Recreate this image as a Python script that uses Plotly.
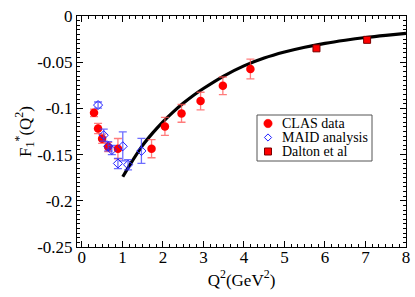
import plotly.graph_objects as go

# CLAS data
clas_q2 = [0.30, 0.40, 0.50, 0.65, 0.89, 1.72, 2.05, 2.46, 2.93, 3.48, 4.16]
clas_f1 = [-0.1048, -0.1217, -0.1328, -0.1418, -0.1436, -0.1436, -0.1195, -0.1054, -0.0920, -0.0755, -0.0574]
clas_err = [0.004, 0.0055, 0.005, 0.005, 0.011, 0.0098, 0.0097, 0.0096, 0.0095, 0.0095, 0.0107]

# MAID analysis
maid_q2 = [0.40, 0.54, 0.65, 0.74, 0.89, 1.01, 1.14, 1.47]
maid_f1 = [-0.0964, -0.1290, -0.1410, -0.1450, -0.1596, -0.1410, -0.1610, -0.1460]
maid_err = [0.0033, 0.0065, 0.005, 0.005, 0.0055, 0.0157, 0.0055, 0.0135]

# Dalton et al
dalton_q2 = [5.79, 7.04]
dalton_f1 = [-0.0350, -0.0258]

# Theory curve
curve_q2 = [1.01, 1.25, 1.5, 1.75, 2.0, 2.25, 2.5, 2.75, 3.0, 3.5, 4.0, 4.5, 5.0, 5.5, 6.0, 6.5, 7.0, 7.5, 8.0]
curve_f1 = [-0.174, -0.1565, -0.1400, -0.1265, -0.1145, -0.1040, -0.0945, -0.0860, -0.0785, -0.0650, -0.0540,
            -0.0455, -0.0390, -0.0338, -0.0296, -0.0262, -0.0233, -0.0209, -0.0188]

# Tick labels
x_tickvals = [0, 1, 2, 3, 4, 5, 6, 7, 8]
x_ticktext = ["0", "1", "2", "3", "4", "5", "6", "7", "8"]
y_tickvals = [0, -0.05, -0.1, -0.15, -0.2, -0.25]
y_ticktext = ["0", "-0.05", "-0.1", "-0.15", "-0.2", "-0.25"]

legend_names = ["CLAS data", "MAID analysis", "Dalton et al"]

serif = "Liberation Serif"

fig = go.Figure()
fig.add_trace(go.Scatter(
    x=curve_q2, y=curve_f1, mode="lines", line=dict(color="black", width=3.2, shape="spline"),
    showlegend=False, hoverinfo="skip"))
fig.add_trace(go.Scatter(
    x=clas_q2, y=clas_f1, mode="markers", name=legend_names[0], showlegend=False,
    marker=dict(symbol="circle", size=8.5, color="#ff0000"),
    error_y=dict(type="data", array=clas_err, color="rgba(255,80,80,0.75)", thickness=1.3, width=4)))
fig.add_trace(go.Scatter(
    x=maid_q2, y=maid_f1, mode="markers", name=legend_names[1], showlegend=False,
    marker=dict(symbol="diamond-open", size=7, color="#1f1fff", line=dict(width=1)),
    error_y=dict(type="data", array=maid_err, color="rgba(60,60,255,0.75)", thickness=1.3, width=4)))
fig.add_trace(go.Scatter(
    x=dalton_q2, y=dalton_f1, mode="markers", name=legend_names[2], showlegend=False,
    marker=dict(symbol="square", size=7, color="#ff0000", line=dict(color="#7a0000", width=1))))

axis_common = dict(
    showline=True, linecolor="black", linewidth=1, mirror="allticks",
    ticks="inside", ticklen=6, tickcolor="black", tickwidth=1,
    showgrid=False, zeroline=False, automargin=False,
    tickfont=dict(family=serif, size=17, color="black"),
)

fig.update_xaxes(
    range=[-0.12, 8], tickvals=x_tickvals, ticktext=x_ticktext, ticklabelstandoff=-5,
    minor=dict(ticks="inside", ticklen=3, dtick=1/6, tick0=0, tickcolor="black", showgrid=False),
    title=dict(text="Q<sup>2</sup>(GeV<sup>2</sup>)", font=dict(family=serif, size=17, color="black"), standoff=2),
    **axis_common)
fig.update_yaxes(
    range=[-0.25, 0], tickvals=y_tickvals, ticktext=y_ticktext,
    minor=dict(ticks="inside", ticklen=3, dtick=0.005, tick0=0, tickcolor="black", showgrid=False),
    title=dict(text="F<sub>1</sub><sup>*</sup>(Q<sup>2</sup>)", font=dict(family=serif, size=17, color="black"), standoff=0),
    **axis_common)

# Hand-built legend box (pixel layout relative to plot area 77..406 x 16..247)
L, T, W, H = 77, 16, 329, 231
def px(xp):
    return (xp - L) / W
def py(yp):
    return 1 - (yp - T) / H

shapes = [
    dict(type="rect", xref="paper", yref="paper", x0=px(257), x1=px(372), y0=py(161), y1=py(115),
         line=dict(color="#555555", width=1), fillcolor="white", layer="above"),
    dict(type="circle", xref="paper", yref="paper", xsizemode="pixel", ysizemode="pixel",
         xanchor=px(268), yanchor=py(123.5), x0=-4.2, x1=4.2, y0=-4.2, y1=4.2,
         fillcolor="#ff0000", line=dict(color="#ff0000", width=0.5), layer="above"),
    dict(type="path", xref="paper", yref="paper", xsizemode="pixel", ysizemode="pixel",
         xanchor=px(268), yanchor=py(137.5), path="M 0 3.6 L 3.6 0 L 0 -3.6 L -3.6 0 Z",
         fillcolor="rgba(0,0,0,0)", line=dict(color="#1f1fff", width=1), layer="above"),
    dict(type="rect", xref="paper", yref="paper", xsizemode="pixel", ysizemode="pixel",
         xanchor=px(268), yanchor=py(151.5), x0=-3.5, x1=3.5, y0=-3.5, y1=3.5,
         fillcolor="#ff0000", line=dict(color="#7a0000", width=1), layer="above"),
]
annotations = []
for name, yp in zip(legend_names, [123.5, 137.5, 151.5]):
    annotations.append(dict(
        text=name, xref="paper", yref="paper", x=px(280), y=py(yp), xanchor="left", yanchor="middle",
        showarrow=False, font=dict(family=serif, size=14, color="black")))

fig.update_layout(
    width=415, height=297,
    margin=dict(l=77, r=9, t=16, b=50),
    paper_bgcolor="white", plot_bgcolor="white",
    showlegend=False,
    shapes=shapes, annotations=annotations,
)

fig.write_html("out.html", config={"displayModeBar": False},
               post_script="document.body.style.margin='0px';")
